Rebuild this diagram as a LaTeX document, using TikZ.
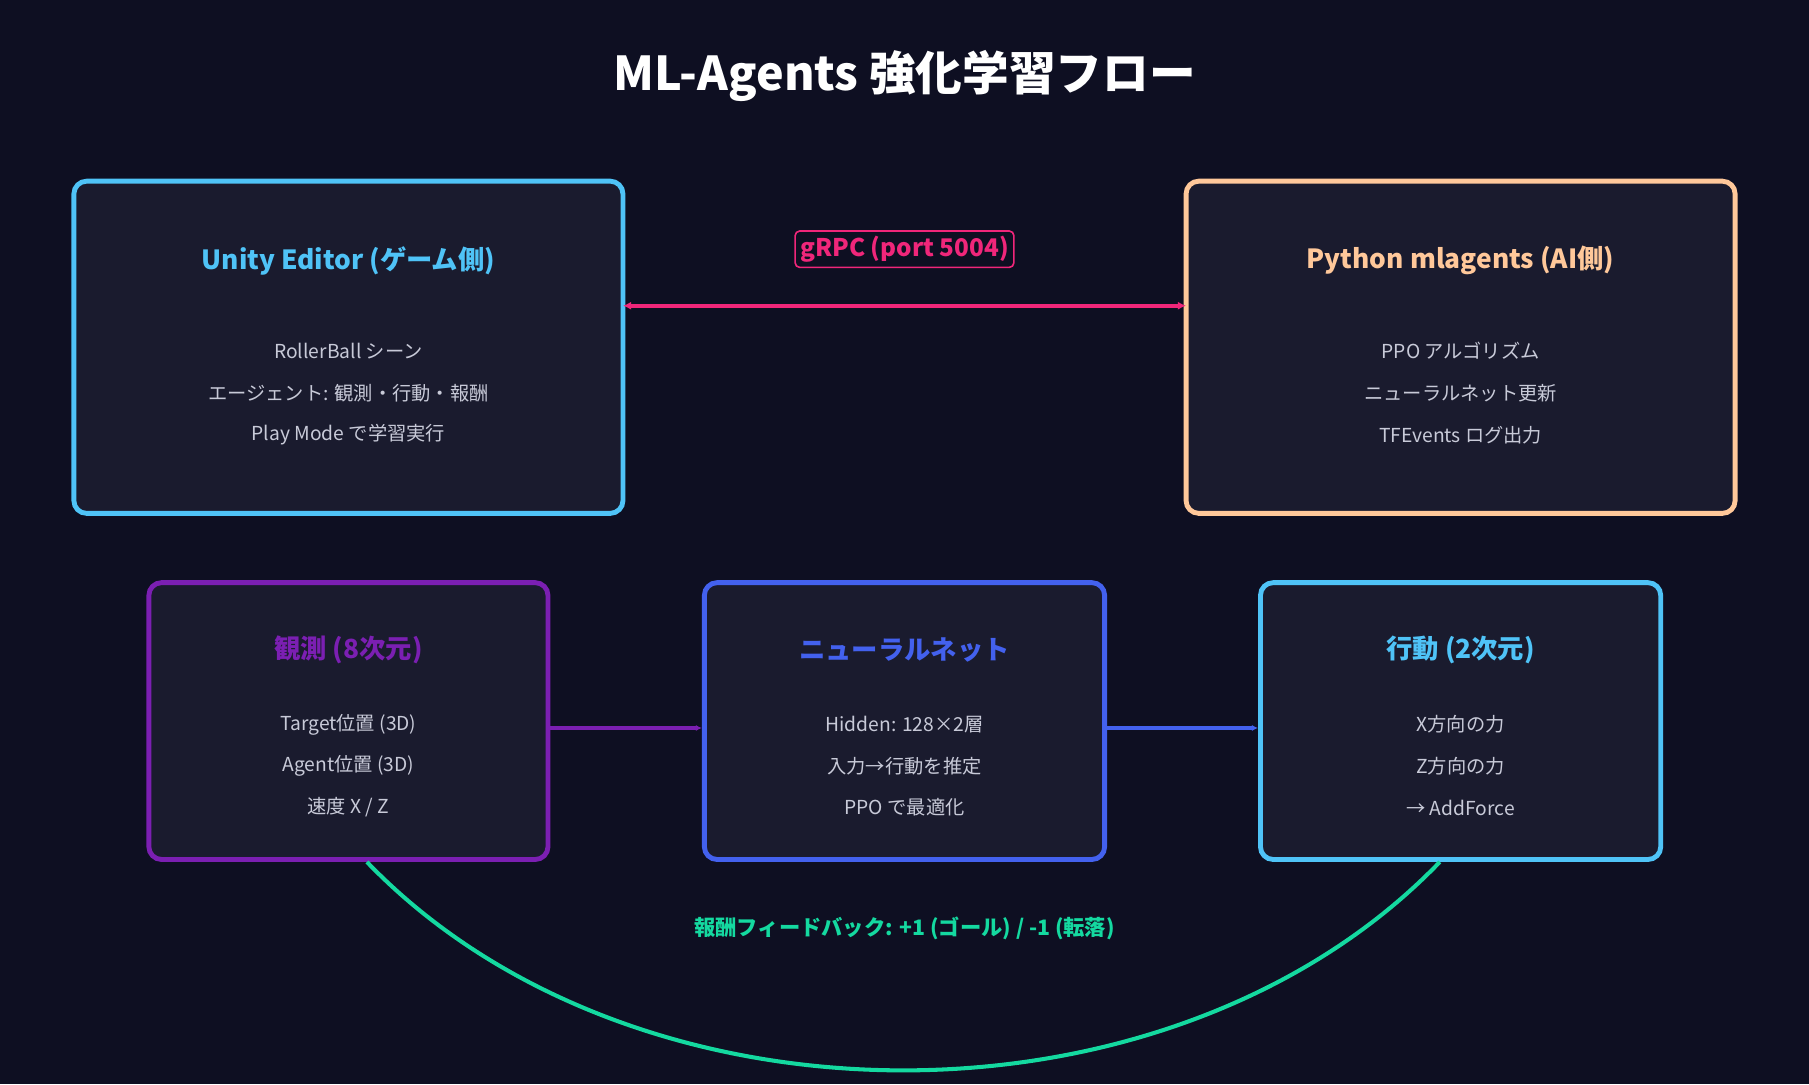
\documentclass[tikz,border=0pt]{standalone}
\usepackage{fontspec}
\setmainfont{Noto Sans CJK JP}
\usetikzlibrary{arrows.meta, positioning, calc}
\definecolor{bgc}{HTML}{0E0F22}
\definecolor{boxc}{HTML}{1A1B2E}
\definecolor{unityc}{HTML}{4FC3F7}
\definecolor{pyc}{HTML}{FFC89A}
\definecolor{obsc}{HTML}{7B1FB2}
\definecolor{nnc}{HTML}{4361EE}
\definecolor{grpcc}{HTML}{F0267A}
\definecolor{rewc}{HTML}{14D9A0}
\definecolor{bodyc}{HTML}{C8CAD8}
\tikzset{
  panel/.style={draw=#1, fill=boxc, line width=2.4pt, rounded corners=0.22cm},
  ttl/.style={text=#1, font=\bfseries\fontsize{13}{15}\selectfont},
  txt/.style={text=bodyc, font=\fontsize{9.5}{11}\selectfont}
}
\begin{document}
\begin{tikzpicture}[x=0.02cm, y=-0.02cm]
  \fill[bgc] (0,0) rectangle (1568,940);
  \useasboundingbox (0,0) rectangle (1568,940);
  % title
  \node[text=white, font=\bfseries\fontsize{23}{27}\selectfont] (title) at (784,66) {ML-Agents 強化学習フロー};

  % upper panels
  \node[panel=unityc, minimum width=9.52cm, minimum height=5.76cm] (unity) at (302,301) {};
  \node[panel=pyc, minimum width=9.52cm, minimum height=5.76cm] (python) at (1266,301) {};
  \node[ttl=unityc] (unityT) at (302,226) {Unity Editor (ゲーム側)};
  \node[txt] (u1) at (302,304) {RollerBall シーン};
  \node[txt] (u2) at (302,341) {エージェント: 観測・行動・報酬};
  \node[txt] (u3) at (302,377) {Play Mode で学習実行};
  \node[ttl=pyc] (pythonT) at (1266,226) {Python mlagents (AI側)};
  \node[txt] (p1) at (1266,304) {PPO アルゴリズム};
  \node[txt] (p2) at (1266,341) {ニューラルネット更新};
  \node[txt] (p3) at (1266,377) {TFEvents ログ出力};

  % gRPC link
  \coordinate (gA) at (540,265);
  \coordinate (gB) at (1028,265);
  \draw[grpcc, line width=2pt, {Latex[length=4pt,width=4pt]}-{Latex[length=4pt,width=4pt]}] (gA) -- (gB);
  \node[draw=grpcc, fill=bgc, rounded corners=0.08cm, line width=0.8pt, text=grpcc,
        font=\bfseries\fontsize{12}{14}\selectfont, inner sep=2.5pt] (grpc) at (784,216) {gRPC (port 5004)};

  % lower panels
  \node[panel=obsc, minimum width=6.92cm, minimum height=4.8cm] (obs) at (302,625) {};
  \node[panel=nnc, minimum width=6.94cm, minimum height=4.8cm] (nn) at (784,625) {};
  \node[panel=unityc, minimum width=6.94cm, minimum height=4.8cm] (act) at (1266,625) {};
  \node[ttl=obsc] (obsT) at (302,563) {観測 (8次元)};
  \node[txt] (o1) at (302,628) {Target位置 (3D)};
  \node[txt] (o2) at (302,664) {Agent位置 (3D)};
  \node[txt] (o3) at (302,700) {速度 X / Z};
  \node[ttl=nnc] (nnT) at (784,563) {ニューラルネット};
  \node[txt] (n1) at (784,628) {Hidden: 128×2層};
  \node[txt] (n2) at (784,664) {入力→行動を推定};
  \node[txt] (n3) at (784,700) {PPO で最適化};
  \node[ttl=unityc] (actT) at (1266,563) {行動 (2次元)};
  \node[txt] (a1) at (1266,628) {X方向の力};
  \node[txt] (a2) at (1266,664) {Z方向の力};
  \node[txt] (a3) at (1266,700) {→ AddForce};

  % flow
  \draw[obsc, line width=2pt, -{Latex[length=3pt,width=3pt]}] (obs.east |- 0,631) -- (nn.west |- 0,631);
  \draw[nnc, line width=2pt, -{Latex[length=3pt,width=3pt]}] (nn.east |- 0,631) -- (act.west |- 0,631);

  % reward feedback
  \draw[rewc, line width=2pt] (act.south -| 1248,0) .. controls (1016,988) and (550,988) .. (obs.south -| 318,0);
  \node[text=rewc, font=\bfseries\fontsize{10.5}{12}\selectfont] (rew) at (784,805) {報酬フィードバック: +1 (ゴール) / -1 (転落)};
\end{tikzpicture}
\end{document}
